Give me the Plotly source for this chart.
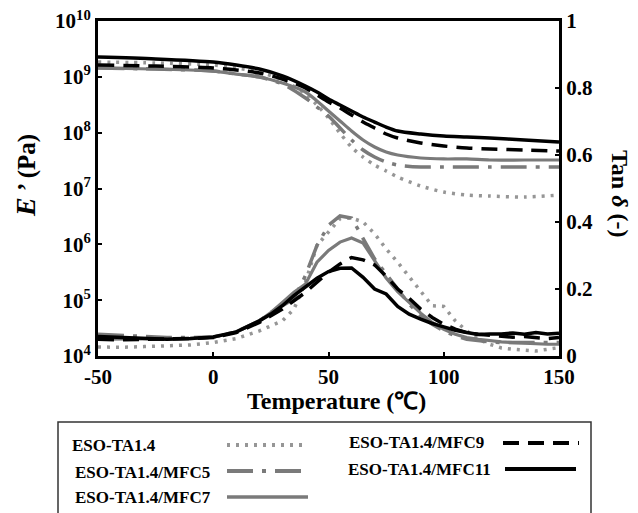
import plotly.graph_objects as go

# ---------------- data ----------------
temp_E = [-50, -25, 0, 10, 20, 30, 40, 45, 50, 55, 60, 65, 70, 75, 80, 90, 100, 110, 120, 135, 150]
E_TA14 = [1.84e9, 1.77e9, 1.63e9, 1.44e9, 1.22e9, 8.77e8, 4.92e8, 3.13e8, 1.83e8, 9.8e7, 5.5e7, 3.66e7,
          2.63e7, 2.06e7, 1.61e7, 1.11e7, 8.65e6, 7.64e6, 7.34e6, 7.04e6, 7.64e6]
E_MFC5 = [1.44e9, 1.38e9, 1.27e9, 1.12e9, 9.93e8, 7.44e8, 4.18e8, 2.88e8, 1.99e8, 1.21e8, 7.39e7, 4.89e7,
          3.66e7, 2.98e7, 2.63e7, 2.43e7, 2.43e7, 2.43e7, 2.43e7, 2.43e7, 2.43e7]
E_MFC7 = [1.44e9, 1.38e9, 1.27e9, 1.12e9, 9.93e8, 7.75e8, 5.35e8, 3.69e8, 2.44e8, 1.62e8, 1.07e8, 7.39e7,
          5.54e7, 4.51e7, 3.98e7, 3.52e7, 3.38e7, 3.38e7, 3.24e7, 3.24e7, 3.24e7]
E_MFC9 = [1.63e9, 1.56e9, 1.44e9, 1.33e9, 1.17e9, 9.15e8, 6.31e8, 4.73e8, 3.54e8, 2.77e8, 2.07e8, 1.55e8,
          1.21e8, 9.46e7, 8.02e7, 6.53e7, 5.77e7, 5.31e7, 5.10e7, 4.89e7, 4.69e7]
E_MFC11 = [2.26e9, 2.09e9, 1.84e9, 1.63e9, 1.38e9, 1.04e9, 6.86e8, 5.35e8, 4.01e8, 3.13e8, 2.44e8, 1.91e8,
           1.55e8, 1.26e8, 1.07e8, 9.46e7, 8.71e7, 8.36e7, 8.02e7, 7.39e7, 6.81e7]

temp_tan = [-50, -40, -30, -20, -10, 0, 10, 20, 25, 30, 35, 40, 45, 50, 55, 60, 65, 70, 75, 80,
            85, 90, 95, 100, 105, 110, 115, 120, 125, 130, 135, 140, 145, 150]
tan_TA14 = [0.027, 0.026, 0.028, 0.030, 0.033, 0.040, 0.052, 0.075, 0.090, 0.105, 0.140, 0.220, 0.330, 0.370,
            0.410, 0.412, 0.400, 0.365, 0.320, 0.280, 0.236, 0.190, 0.150, 0.148, 0.105, 0.075, 0.050, 0.035,
            0.024, 0.020, 0.018, 0.015, 0.020, 0.025]
tan_MFC5 = [0.065, 0.062, 0.058, 0.055, 0.055, 0.057, 0.072, 0.105, 0.130, 0.150, 0.170, 0.240, 0.330, 0.390,
            0.418, 0.412, 0.350, 0.290, 0.245, 0.200, 0.155, 0.120, 0.095, 0.075, 0.060, 0.050, 0.045, 0.042,
            0.040, 0.040, 0.038, 0.040, 0.038, 0.040]
tan_MFC7 = [0.050, 0.050, 0.050, 0.050, 0.052, 0.056, 0.072, 0.105, 0.130, 0.160, 0.190, 0.215, 0.280, 0.315,
            0.340, 0.352, 0.337, 0.285, 0.233, 0.192, 0.160, 0.128, 0.100, 0.080, 0.065, 0.055, 0.050, 0.045,
            0.042, 0.040, 0.038, 0.036, 0.035, 0.035]
tan_MFC9 = [0.050, 0.048, 0.050, 0.050, 0.052, 0.055, 0.070, 0.100, 0.120, 0.140, 0.165, 0.190, 0.220, 0.250,
            0.275, 0.294, 0.287, 0.272, 0.238, 0.200, 0.172, 0.140, 0.115, 0.095, 0.080, 0.070, 0.065, 0.062,
            0.060, 0.056, 0.058, 0.055, 0.052, 0.055]
tan_MFC11 = [0.058, 0.055, 0.052, 0.050, 0.052, 0.057, 0.072, 0.105, 0.125, 0.150, 0.180, 0.205, 0.232, 0.252,
             0.262, 0.263, 0.235, 0.200, 0.185, 0.148, 0.125, 0.110, 0.097, 0.087, 0.077, 0.070, 0.064, 0.066,
             0.066, 0.069, 0.065, 0.070, 0.066, 0.068]

sample_names = ["ESO-TA1.4", "ESO-TA1.4/MFC5", "ESO-TA1.4/MFC7", "ESO-TA1.4/MFC9", "ESO-TA1.4/MFC11"]
E_series = [E_TA14, E_MFC5, E_MFC7, E_MFC9, E_MFC11]
tan_series = [tan_TA14, tan_MFC5, tan_MFC7, tan_MFC9, tan_MFC11]

x_ticks = [-50, 0, 50, 100, 150]
E_ticks = [1e4, 1e5, 1e6, 1e7, 1e8, 1e9, 1e10]
E_ticktext = ["10<sup>4</sup>", "10<sup>5</sup>", "10<sup>6</sup>", "10<sup>7</sup>",
              "10<sup>8</sup>", "10<sup>9</sup>", "10<sup>10</sup>"]
tan_ticks = [0, 0.2, 0.4, 0.6, 0.8, 1]
tan_ticktext = ["0", "0.2", "0.4", "0.6", "0.8", "1"]

# ---------------- styles ----------------
styles = [
    dict(color="#969696", width=3.5, dash="3px,6px"),
    dict(color="#7a7a7a", width=3.5, dash="26px,9px,4px,9px"),
    dict(color="#7a7a7a", width=3.2, dash="solid"),
    dict(color="#000000", width=3.5, dash="16px,9px"),
    dict(color="#000000", width=3.5, dash="solid"),
]

FONT = "Liberation Serif"

fig = go.Figure()
for name, ev, tv, st in zip(sample_names, E_series, tan_series, styles):
    fig.add_trace(go.Scatter(x=temp_E, y=ev, mode="lines", name=name,
                             line=dict(color=st["color"], width=st["width"], dash=st["dash"],
                                       shape="spline", smoothing=0.8),
                             yaxis="y"))
    fig.add_trace(go.Scatter(x=temp_tan, y=tv, mode="lines", name=name,
                             line=dict(color=st["color"], width=st["width"], dash=st["dash"]),
                             yaxis="y2"))

X0, X1, Y0, Y1 = 98, 559, 21, 356


def fx(p):
    return (p - X0) / (X1 - X0)


def fy(p):
    return (Y1 - p) / (Y1 - Y0)


tickfont = dict(family=FONT, size=21, color="black", weight="bold")

fig.update_layout(
    width=638, height=513,
    margin=dict(l=X0, r=638 - X1, t=Y0, b=513 - Y1, autoexpand=False),
    plot_bgcolor="white", paper_bgcolor="white",
    showlegend=False,
    xaxis=dict(range=[-50, 150], tickvals=x_ticks, ticktext=[str(v) for v in x_ticks],
               showline=True, linewidth=3, linecolor="black", mirror=True,
               ticks="inside", ticklen=4, tickwidth=2, tickcolor="black",
               showgrid=False, zeroline=False, tickfont=tickfont),
    yaxis=dict(type="log", range=[4, 10], tickvals=E_ticks, ticktext=E_ticktext,
               showline=True, linewidth=3, linecolor="black",
               ticks="inside", ticklen=4, tickwidth=2, tickcolor="black",
               showgrid=False, zeroline=False, tickfont=tickfont),
    yaxis2=dict(overlaying="y", side="right", range=[0, 1], tickvals=tan_ticks, ticktext=tan_ticktext,
                showline=True, linewidth=3, linecolor="black",
                ticks="inside", ticklen=4, tickwidth=2, tickcolor="black",
                showgrid=False, zeroline=False, tickfont=tickfont),
)

annotations = [
    dict(x=fx(25), y=fy(176), text="<i><span style='font-size:28px'>E</span></i> ’ (Pa)", textangle=-90,
         font=dict(family=FONT, size=25, color="#000000", weight="bold")),
    dict(x=fx(620), y=fy(193), text="Tan <i>δ</i> (-)", textangle=90,
         font=dict(family=FONT, size=24, color="#000000", weight="bold")),
    dict(x=fx(336), y=fy(401), text="Temperature (℃)",
         font=dict(family=FONT, size=24, color="#000000", weight="bold")),
]
for a in annotations:
    a.update(xref="paper", yref="paper", showarrow=False, xanchor="center", yanchor="middle")

# legend (drawn manually)
legend_text_pos = [(71, 446), (74, 472), (74, 497), (348, 443), (347, 469)]
legend_line_pos = [(227, 307, 445), (227, 307, 471), (227, 308, 497), (503, 579, 443), (505, 576, 469)]
shapes = [dict(type="rect", xref="paper", yref="paper", x0=fx(58), x1=fx(591), y0=fy(422), y1=fy(540),
               line=dict(color="#333333", width=1.5), fillcolor="rgba(0,0,0,0)")]
for name, (tx, ty), (lx0, lx1, ly), st in zip(sample_names, legend_text_pos, legend_line_pos, styles):
    annotations.append(dict(x=fx(tx), y=fy(ty), xref="paper", yref="paper", text=name, showarrow=False,
                            xanchor="left", yanchor="middle", borderpad=0,
                            font=dict(family=FONT, size=17, color="#000000", weight="bold")))
    shapes.append(dict(type="line", xref="paper", yref="paper", x0=fx(lx0), x1=fx(lx1), y0=fy(ly), y1=fy(ly),
                       line=dict(color=st["color"], width=st["width"] + 0.5, dash=st["dash"])))

fig.update_layout(annotations=annotations, shapes=shapes)
fig.write_html("out.html", config={"displayModeBar": False},
               post_script="document.body.style.margin='0px';document.body.style.padding='0px';")
